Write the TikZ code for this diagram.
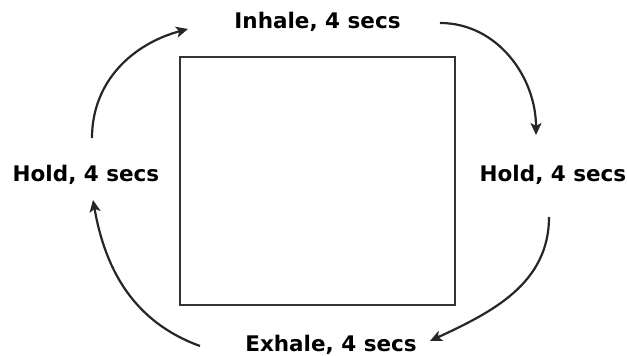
\documentclass[tikz,border=0pt]{standalone}
\usepackage{fontspec}
\setmainfont{DejaVu Sans}
\usetikzlibrary{arrows.meta}

\begin{document}
\begin{tikzpicture}[x=1pt, y=1pt, >={Stealth[length=12pt,width=11pt,inset=3pt]},
    lbl/.style={font=\fontsize{21.5}{25}\selectfont\bfseries, inner sep=0pt, anchor=base},
    flow/.style={->, line width=2.2pt, draw=black!85}]
  \useasboundingbox (0,0) rectangle (627,356);
  \node[draw=black!80, line width=1.8pt, minimum width=275pt, minimum height=248pt, inner sep=0pt] (box) at (317.5,175) {};
  \node[lbl] (inh) at (317.5,327) {Inhale, 4 secs};
  \node[lbl] (holdl) at (86,174) {Hold, 4 secs};
  \node[lbl] (holdr) at (553,174) {Hold, 4 secs};
  \node[lbl] (exh) at (331,4) {Exhale, 4 secs};
  % arrow ends
  \coordinate (s1) at (92,218);  \coordinate (e1) at (188,327);
  \coordinate (s2) at (440,333); \coordinate (e2) at (536,221);
  \coordinate (s3) at (549,139); \coordinate (e3) at (430,15);
  \coordinate (s4) at (200,10);  \coordinate (e4) at (93,156);
  \path
    (s1) edge [flow, out=90, in=195] (e1)
    (s2) edge [flow, out=0, in=90] (e2)
    (s3) edge [flow, out=-90, in=25] (e3)
    (s4) edge [flow, out=160, in=-80] (e4);
\end{tikzpicture}
\end{document}
